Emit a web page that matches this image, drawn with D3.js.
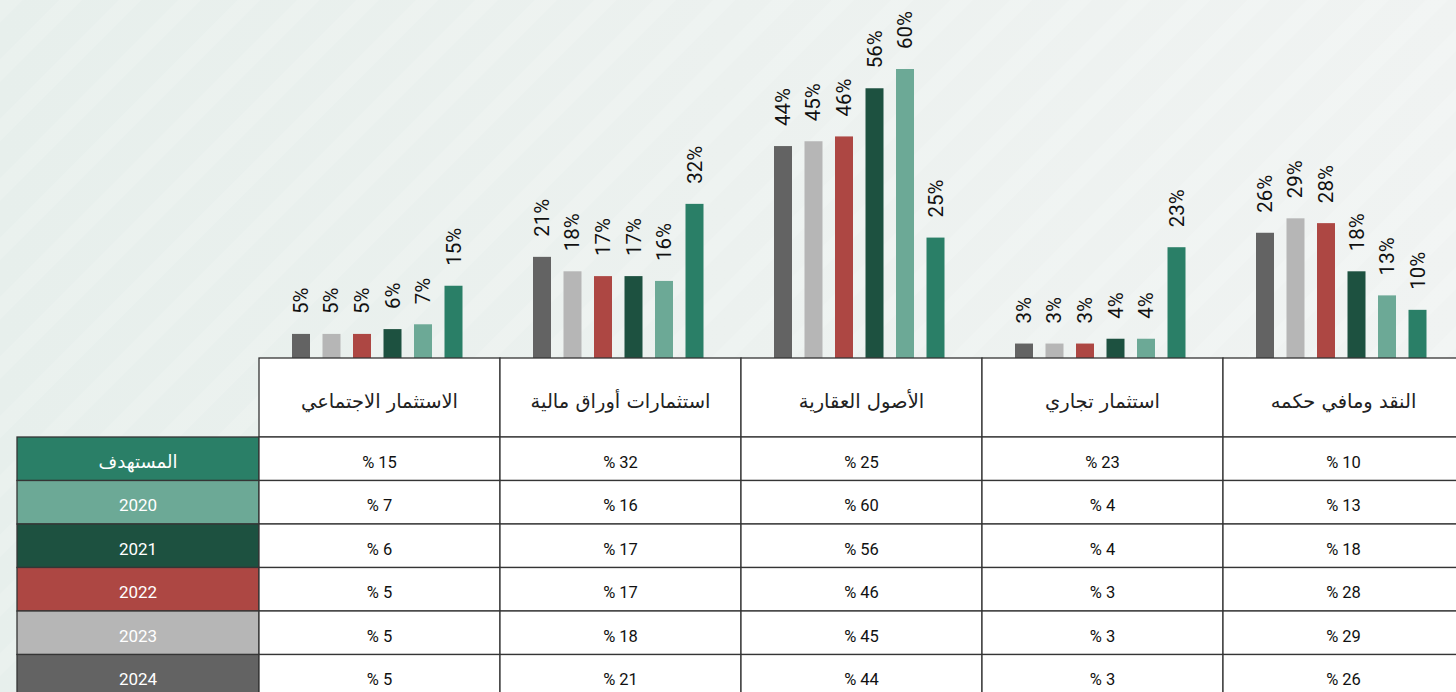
<!DOCTYPE html>
<html>
<head>
<meta charset="utf-8">
<script src="https://cdn.jsdelivr.net/npm/d3@7"></script>
<style>
  html, body { margin: 0; padding: 0; background: #eef3f1; }
  svg { display: block; }
</style>
</head>
<body>
<div class="chart"></div>
<script>
/* data */
const categories = ["الاستثمار الاجتماعي", "استثمارات أوراق مالية", "الأصول العقارية", "استثمار تجاري", "النقد ومافي حكمه"];
const seriesNames = ["2024", "2023", "2022", "2021", "2020", "المستهدف"];
const values2024 = [5, 21, 44, 3, 26];
const values2023 = [5, 18, 45, 3, 29];
const values2022 = [5, 17, 46, 3, 28];
const values2021 = [6, 17, 56, 4, 18];
const values2020 = [7, 16, 60, 4, 13];
const valuesTarget = [15, 32, 25, 23, 10];
const seriesColors = ["#636363", "#b6b6b6", "#ad4743", "#1d5140", "#6ca996", "#2a7f67"];

const seriesValues = [values2024, values2023, values2022, values2021, values2020, valuesTarget];
const series = seriesNames.map((name, i) => ({ name, color: seriesColors[i], values: seriesValues[i] }));
// table rows run the other way: target first, 2024 last
const tableRows = series.slice().reverse();

/* canvas */
const svg_width = 1456;
const svg_height = 692;
const table = { left: 259, colW: 241, legendLeft: 17, top: 358, headerH: 79, rowH: 43.5 };

const svg = d3.select(".chart").append("svg")
    .attr("width", svg_width)
    .attr("height", svg_height);

/* background: soft gradient with faint diagonal stripes */
const defs = svg.append("defs");
const grad = defs.append("linearGradient").attr("id", "bg").attr("x1", 0).attr("x2", 1).attr("y1", 0).attr("y2", 0);
grad.append("stop").attr("offset", 0).attr("stop-color", "#e7efec");
grad.append("stop").attr("offset", 0.5).attr("stop-color", "#ecf1ef");
grad.append("stop").attr("offset", 1).attr("stop-color", "#f0f3f2");
const pat = defs.append("pattern").attr("id", "stripes")
    .attr("patternUnits", "userSpaceOnUse")
    .attr("width", 42).attr("height", 42)
    .attr("patternTransform", "rotate(45)");
pat.append("rect").attr("x", 0).attr("y", 0).attr("width", 16).attr("height", 42)
    .attr("fill", "#ffffff").attr("opacity", 0.13);

svg.append("rect").attr("width", svg_width).attr("height", svg_height).attr("fill", "url(#bg)");
svg.append("rect").attr("width", svg_width).attr("height", svg_height).attr("fill", "url(#stripes)");

/* scales */
const x0 = d3.scaleBand().domain(categories)
    .range([table.left, table.left + categories.length * table.colW]);
const x1 = d3.scaleBand().domain(seriesNames).range([33, 203.5]).paddingInner(0.41);
const y = d3.scaleLinear().domain([0, 60]).range([table.top, 69]);

/* bars */
const groups = svg.append("g").attr("class", "bars")
    .selectAll("g").data(categories).join("g")
    .attr("transform", d => `translate(${x0(d)},0)`);

groups.selectAll("rect")
    .data((d, ci) => series.map(s => ({ name: s.name, color: s.color, value: s.values[ci] })))
    .join("rect")
    .attr("x", d => x1(d.name))
    .attr("y", d => y(d.value))
    .attr("width", x1.bandwidth())
    .attr("height", d => y(0) - y(d.value))
    .attr("fill", d => d.color);

groups.selectAll("text")
    .data((d, ci) => series.map(s => ({ name: s.name, value: s.values[ci] })))
    .join("text")
    .attr("transform", d => `translate(${x1(d.name) + x1.bandwidth() / 2 + 7},${y(d.value) - 20}) rotate(-90)`)
    .attr("text-anchor", "start")
    .attr("font-family", "Roboto, 'Open Sans', sans-serif")
    .attr("font-size", 20.5)
    .attr("fill", "#111")
    .text(d => `${d.value}%`);

/* table */
const tbl = svg.append("g").attr("class", "table");
const lineColor = "#353535";

// header row
tbl.selectAll(".head-cell").data(categories).join("rect")
    .attr("class", "head-cell")
    .attr("x", d => x0(d)).attr("y", table.top)
    .attr("width", table.colW).attr("height", table.headerH)
    .attr("fill", "#fff").attr("stroke", lineColor).attr("stroke-width", 1.3);

tbl.selectAll(".head-text").data(categories).join("text")
    .attr("class", "head-text")
    .attr("x", d => x0(d) + table.colW / 2)
    .attr("y", table.top + table.headerH / 2 + 10)
    .attr("text-anchor", "middle")
    .attr("direction", "rtl")
    .attr("font-family", "'DejaVu Sans', sans-serif")
    .attr("font-size", 19.5)
    .attr("fill", "#222")
    .text(d => d);

// body rows
const rowTop = i => table.top + table.headerH + i * table.rowH;
const rows = tbl.selectAll(".row").data(tableRows).join("g").attr("class", "row");

rows.append("rect")
    .attr("x", table.legendLeft).attr("y", (d, i) => rowTop(i))
    .attr("width", table.left - table.legendLeft).attr("height", table.rowH)
    .attr("fill", d => d.color).attr("stroke", lineColor).attr("stroke-width", 1.3);

rows.append("text")
    .attr("x", (table.left + table.legendLeft) / 2)
    .attr("y", (d, i) => rowTop(i) + table.rowH / 2 + 9)
    .attr("text-anchor", "middle")
    .attr("direction", d => /\d/.test(d.name) ? "ltr" : "rtl")
    .attr("font-family", d => /\d/.test(d.name) ? "Roboto, sans-serif" : "'DejaVu Sans', sans-serif")
    .attr("font-size", d => /\d/.test(d.name) ? 17 : 18)
    .attr("fill", "#fff")
    .text(d => d.name);

rows.each(function (s, i) {
    const row = d3.select(this);
    row.selectAll(".cell").data(categories).join("rect")
        .attr("class", "cell")
        .attr("x", d => x0(d)).attr("y", rowTop(i))
        .attr("width", table.colW).attr("height", table.rowH)
        .attr("fill", "#fff").attr("stroke", lineColor).attr("stroke-width", 1.3);
    row.selectAll(".cell-text").data(s.values).join("text")
        .attr("class", "cell-text")
        .attr("x", (d, ci) => x0(categories[ci]) + table.colW / 2)
        .attr("y", rowTop(i) + table.rowH / 2 + 9)
        .attr("text-anchor", "middle")
        .attr("font-family", "Roboto, sans-serif")
        .attr("font-size", 16.5)
        .attr("fill", "#111")
        .text(d => `% ${d}`);
});
</script>
</body>
</html>
